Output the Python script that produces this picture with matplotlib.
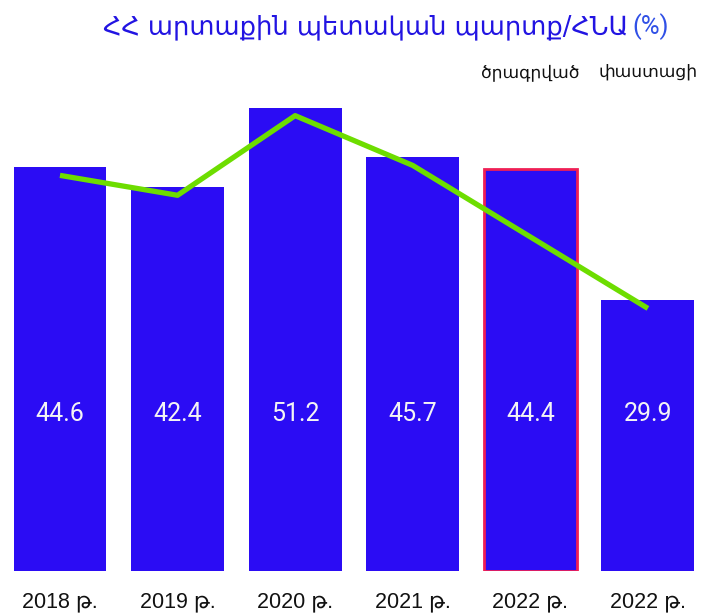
import matplotlib
matplotlib.use("Agg")
import matplotlib.pyplot as plt
import matplotlib.transforms as mtransforms
import numpy as np

categories = ["2018 թ.", "2019 թ.", "2020 թ.", "2021 թ.", "2022 թ.", "2022 թ."]
values = [44.6, 42.4, 51.2, 45.7, 44.4, 29.9]
line_idx = [0, 1, 2, 3, 5]
line_values = [44.6, 42.4, 51.2, 45.7, 29.9]
column_headers = {4: "ծրագրված", 5: "փաստացի"}
title_main = "ՀՀ արտաքին պետական պարտք/ՀՆԱ"
title_unit = "(%)"

W, H = 702, 614
fig = plt.figure(figsize=(W / 100, H / 100), dpi=100)
fig.patch.set_facecolor("white")

base_px = 571
ymax = 60
kpx = 9.05
ax = fig.add_axes([0, (H - base_px) / H, 1, kpx * ymax / H])
ax.set_xlim(-0.51, 5.46)
ax.set_ylim(0, ymax)
ax.axis("off")

x = np.arange(len(values))
bar_color = "#2b0cf4"
bars = ax.bar(x, values, width=0.79, color=bar_color, zorder=2)
bars[4].set_edgecolor("#ef1f55")
bars[4].set_linewidth(2.0)

# green line, slightly below bar tops
off = mtransforms.offset_copy(ax.transData, fig=fig, x=0, y=-8, units="dots")
ax.plot(x[line_idx], line_values, color="#6ddd00", lw=3.8, transform=off,
        zorder=3, solid_capstyle="butt")

fam = ["Roboto", "DejaVu Sans"]
for xi, v in zip(x, values):
    ax.text(xi, 17.3, f"{v}", ha="center", va="center", color="#f4f4f4",
            fontsize=18, family=fam, zorder=4)

for xi, lab in zip(x, categories):
    fig.text((60 + 117.6 * xi) / W, 1 - 602 / H, lab, ha="center", va="center",
             fontsize=15.5, color="#111111", family=["Liberation Sans", "DejaVu Sans"])

for i, lab in column_headers.items():
    fig.text((60 + 117.6 * i) / W, 1 - 72 / H, lab, ha="center", va="center",
             fontsize=12.3, color="#111111", family=["DejaVu Sans"])

fig.text(628 / W, 1 - 27 / H, title_main, ha="right", va="center",
         fontsize=18.5, color="#2214e2", family=["DejaVu Sans"])
fig.text(632 / W, 1 - 27 / H, title_unit, ha="left", va="center",
         fontsize=18.5, color="#3050e6", family=["Roboto", "DejaVu Sans"])

fig.savefig("out.png", dpi=100, facecolor="white")
